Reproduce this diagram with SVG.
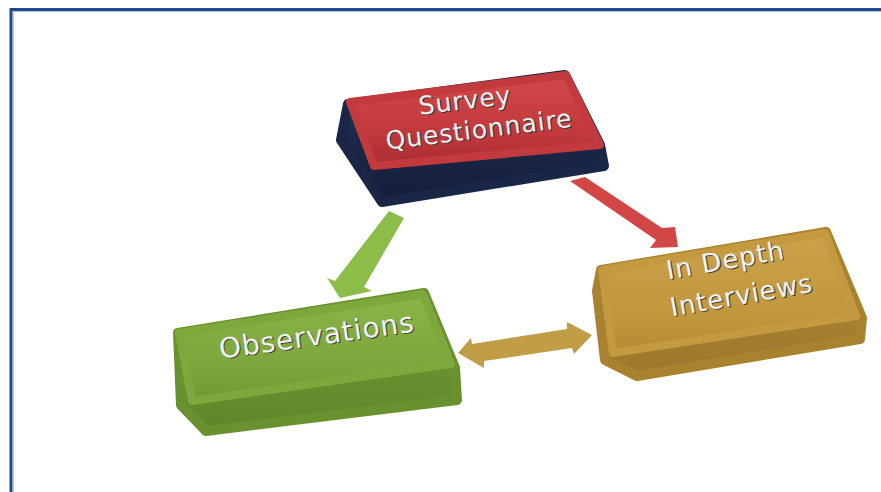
<svg xmlns="http://www.w3.org/2000/svg" width="881" height="492" viewBox="0 0 881 492">
  <defs>
    <linearGradient id="gRed" x1="0" y1="0" x2="0" y2="1">
      <stop offset="0" stop-color="#d2484a"/>
      <stop offset="0.6" stop-color="#c33a3d"/>
      <stop offset="1" stop-color="#a92c31"/>
    </linearGradient>
    <linearGradient id="gNavy" x1="0" y1="0" x2="0" y2="1">
      <stop offset="0" stop-color="#23335a"/>
      <stop offset="1" stop-color="#141d38"/>
    </linearGradient>
    <linearGradient id="gGreen" x1="0" y1="0" x2="0" y2="1">
      <stop offset="0" stop-color="#8bb548"/>
      <stop offset="0.7" stop-color="#7ca63b"/>
      <stop offset="1" stop-color="#6f9833"/>
    </linearGradient>
    <linearGradient id="gGreenSide" x1="0" y1="0" x2="0" y2="1">
      <stop offset="0" stop-color="#779f37"/>
      <stop offset="1" stop-color="#5f852a"/>
    </linearGradient>
    <linearGradient id="gGold" x1="0" y1="0" x2="0" y2="1">
      <stop offset="0" stop-color="#cba24a"/>
      <stop offset="0.7" stop-color="#c1973d"/>
      <stop offset="1" stop-color="#b38a35"/>
    </linearGradient>
    <linearGradient id="gGoldSide" x1="0" y1="0" x2="0" y2="1">
      <stop offset="0" stop-color="#b68d37"/>
      <stop offset="1" stop-color="#9c772b"/>
    </linearGradient>
    <style>
      .lbl { font-family: "DejaVu Sans", "Liberation Sans", sans-serif; text-anchor: middle; letter-spacing: 1px; }
      .sh { fill: #3a3a3a; }
      .fg { fill: #f2f2f2; }
      .side, .face { stroke-linejoin: round; }
    </style>
  </defs>

  <rect x="0" y="0" width="881" height="492" fill="#ffffff"/>

  <!-- frame -->
  <g id="frame">
    <path d="M11 492 V9.5 H881" fill="none" stroke="#1f4a85" stroke-width="3"/>
    <path d="M13.5 492 V11.5 H881" fill="none" stroke="#b8c8e0" stroke-width="1"/>
  </g>

  <!-- connectors -->
  <g id="connectors">
    <!-- Survey -> Observations -->
    <polygon points="389,211 404,218 364,287 372,291 340,298 327,278 335,281" fill="#8cbd48"/>
    <!-- Survey -> In Depth -->
    <polygon points="570,181 585,177 662,228 675,227 678,247 650,248 656,240" fill="#d24646"/>
    <!-- Observations <-> In Depth -->
    <polygon points="458,353 471,338 472,344 567,329 567,322 592,335 574,354 572,348 484,361 484,368" fill="#c29d48"/>
  </g>

  <!-- Survey Questionnaire -->
  <g id="node-survey">
    <polygon class="side" points="348,104 565,75 600,145 604,166 382,202 341,140" fill="url(#gNavy)" stroke="#1a2646" stroke-width="10"/>
    <polygon class="face" points="350,102 566,75 600,145 374,166" fill="url(#gRed)" stroke="#c23a3d" stroke-width="8"/>
    <g class="lbl" font-size="25">
      <text class="sh" x="467" y="110" transform="rotate(-7 466 109)">Survey</text>
      <text class="sh" x="481" y="139" transform="rotate(-7 480 138)">Questionnaire</text>
      <text class="fg" x="466" y="109" transform="rotate(-7 466 109)">Survey</text>
      <text class="fg" x="480" y="138" transform="rotate(-7 480 138)">Questionnaire</text>
    </g>
  </g>

  <!-- Observations -->
  <g id="node-observations">
    <polygon class="side" points="178,333 424,293 455,368 457,400 206,431 181,405" fill="url(#gGreenSide)" stroke="#6a912f" stroke-width="10"/>
    <polygon class="face" points="179,333 423,294 451,364 192,401" fill="url(#gGreen)" stroke="#7da83c" stroke-width="8"/>
    <g class="lbl" font-size="28">
      <text class="sh" x="319" y="346" transform="rotate(-8 318 345)">Observations</text>
      <text class="fg" x="318" y="345" transform="rotate(-8 318 345)">Observations</text>
    </g>
  </g>

  <!-- In Depth Interviews -->
  <g id="node-interviews">
    <polygon class="side" points="601,270 826,232 862,318 860,339 637,376 605,360 597,291" fill="url(#gGoldSide)" stroke="#a8822f" stroke-width="10"/>
    <polygon class="face" points="602,270 825,233 856,316 613,353" fill="url(#gGold)" stroke="#c49a40" stroke-width="8"/>
    <g class="lbl" font-size="26">
      <text class="sh" x="728" y="270" transform="rotate(-10 727 269)">In Depth</text>
      <text class="sh" x="744" y="305" transform="rotate(-10 743 304)">Interviews</text>
      <text class="fg" x="727" y="269" transform="rotate(-10 727 269)">In Depth</text>
      <text class="fg" x="743" y="304" transform="rotate(-10 743 304)">Interviews</text>
    </g>
  </g>
</svg>
